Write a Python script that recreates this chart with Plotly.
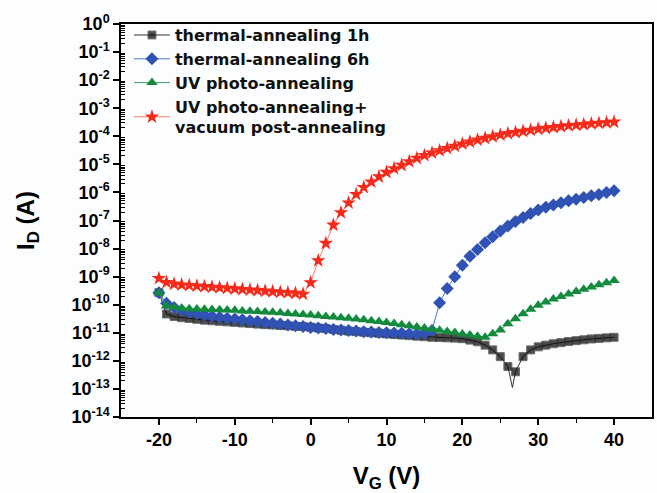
import plotly.graph_objects as go

# ---- data (gate voltage V, log10 of drain current A) ----
vg = list(range(-20, 41))

log_th1h = [-9.57, -10.33, -10.42, -10.46, -10.49, -10.52, -10.55, -10.57, -10.59, -10.61,
            -10.63, -10.65, -10.67, -10.69, -10.71, -10.72, -10.74, -10.75, -10.77, -10.78,
            -10.80, -10.83, -10.85, -10.88, -10.91, -10.94, -10.96, -10.98, -11.00, -11.02,
            -11.04, -11.06, -11.08, -11.10, -11.12, -11.14, -11.16, -11.17, -11.18, -11.19,
            -11.21, -11.26, -11.32, -11.44, -11.61, -11.85, -12.20, -12.39, -11.85, -11.61,
            -11.50, -11.44, -11.39, -11.35, -11.31, -11.28, -11.25, -11.22, -11.20, -11.18, -11.16]
# extra reading: sharp dip of the connecting line between 26 V and 27 V
dip_vg = 26.6
dip_log = -12.95

log_th6h = [-9.57, -9.95, -10.10, -10.20, -10.27, -10.32, -10.37, -10.41, -10.45, -10.48,
            -10.51, -10.54, -10.57, -10.60, -10.63, -10.66, -10.69, -10.72, -10.75, -10.78,
            -10.81, -10.83, -10.85, -10.88, -10.90, -10.92, -10.94, -10.96, -10.97, -10.99,
            -11.00, -11.01, -11.02, -11.03, -11.04, -11.02, -10.92, -9.93, -9.42, -9.00,
            -8.59, -8.27, -8.03, -7.79, -7.58, -7.37, -7.20, -7.04, -6.89, -6.75,
            -6.63, -6.53, -6.45, -6.37, -6.30, -6.24, -6.18, -6.12, -6.07, -6.00, -5.94]

log_uv = [-9.57, -10.05, -10.09, -10.13, -10.14, -10.15, -10.16, -10.17, -10.18, -10.19,
          -10.20, -10.22, -10.23, -10.24, -10.26, -10.27, -10.29, -10.31, -10.33, -10.35,
          -10.37, -10.39, -10.42, -10.44, -10.46, -10.48, -10.51, -10.54, -10.57, -10.60,
          -10.63, -10.67, -10.71, -10.75, -10.79, -10.83, -10.87, -10.91, -10.95, -10.99,
          -11.04, -11.08, -11.12, -11.16, -11.03, -10.90, -10.68, -10.50, -10.32, -10.16,
          -10.02, -9.90, -9.80, -9.71, -9.62, -9.53, -9.45, -9.37, -9.29, -9.22, -9.14]

log_uv_vac = [-9.06, -9.20, -9.26, -9.29, -9.31, -9.33, -9.35, -9.37, -9.39, -9.41,
              -9.43, -9.45, -9.47, -9.49, -9.51, -9.53, -9.55, -9.57, -9.59, -9.62,
              -9.21, -8.43, -7.81, -7.16, -6.72, -6.37, -6.07, -5.82, -5.62, -5.44,
              -5.28, -5.15, -5.03, -4.90, -4.78, -4.68, -4.59, -4.51, -4.43, -4.35,
              -4.27, -4.20, -4.13, -4.07, -4.01, -3.95, -3.90, -3.86, -3.82, -3.78,
              -3.74, -3.71, -3.68, -3.65, -3.62, -3.60, -3.58, -3.55, -3.53, -3.51, -3.49]

names = ["thermal-annealing 1h", "thermal-annealing 6h", "UV photo-annealing",
         "UV photo-annealing+<br>vacuum post-annealing"]

y_decades = list(range(-14, 1))
x_ticks = [-20, -10, 0, 10, 20, 30, 40]

FONT = "Liberation Sans, Arial, sans-serif"
LEGEND_FONT = "DejaVu Sans, Liberation Sans, Arial, sans-serif"

fig = go.Figure()

# black series, with the dip point inserted (marker hidden)
bx, by, bs = [], [], []
for v, l in zip(vg, log_th1h):
    bx.append(v); by.append(10 ** l); bs.append(8)
    if v == 26:
        bx.append(dip_vg); by.append(10 ** dip_log); bs.append(0)

fig.add_trace(go.Scatter(x=bx, y=by, name=names[0], mode="lines+markers",
                         line=dict(color="#333333", width=1),
                         marker=dict(symbol="square", size=bs, color="#000000")))
fig.add_trace(go.Scatter(x=vg, y=[10 ** l for l in log_th6h], name=names[1], mode="lines+markers",
                         line=dict(color="#4a78d8", width=1),
                         marker=dict(symbol="diamond", size=10, color="#3052b4")))
fig.add_trace(go.Scatter(x=vg, y=[10 ** l for l in log_uv], name=names[2], mode="lines+markers",
                         line=dict(color="#3aa065", width=1),
                         marker=dict(symbol="triangle-up", size=10, color="#138a3c")))
fig.add_trace(go.Scatter(x=vg, y=[10 ** l for l in log_uv_vac], name=names[3], mode="lines+markers",
                         line=dict(color="#ff7a66", width=1),
                         marker=dict(symbol="star", size=11, color="#f52a1a")))

minor_y = [m * 10 ** k for k in range(-14, 0) for m in range(2, 10)]

fig.update_layout(
    width=657, height=493,
    margin=dict(l=121, r=5, t=24, b=76),
    paper_bgcolor="#fcfdff", plot_bgcolor="#fcfdff",
    font=dict(family=FONT, size=18, color="#000000"),
    showlegend=True,
    legend=dict(x=0.015, y=1.015, xanchor="left", yanchor="top",
                bgcolor="rgba(0,0,0,0)", borderwidth=0,
                font=dict(family=LEGEND_FONT, size=16, color="#111111", weight="bold"),
                tracegroupgap=0, itemwidth=36),
)

fig.update_xaxes(
    range=[-25, 45], tickvals=x_ticks, ticktext=[str(t) for t in x_ticks],
    ticks="outside", ticklen=6, tickwidth=1.5, tickcolor="#000",
    showline=True, linecolor="#000", linewidth=1.5, mirror=True,
    showgrid=False, zeroline=False, automargin=False,
    tickfont=dict(family=FONT, size=18, weight="bold"),
    minor=dict(tickvals=[-15, -5, 5, 15, 25, 35], ticks="outside", ticklen=4,
               tickwidth=1.2, tickcolor="#000", showgrid=False),
    title=dict(text="V<sub>G</sub> (V)", font=dict(family=FONT, size=24, weight="bold"), standoff=19),
)

fig.update_yaxes(
    type="log", range=[-14, 0],
    tickvals=[10 ** k for k in y_decades],
    ticktext=["10<sup>%d</sup>" % k for k in y_decades],
    ticks="outside", ticklen=6, tickwidth=1.5, tickcolor="#000",
    showline=True, linecolor="#000", linewidth=1.5, mirror=True,
    showgrid=False, zeroline=False, automargin=False,
    tickfont=dict(family=FONT, size=18, weight="bold"),
    minor=dict(tickvals=minor_y, ticks="inside", ticklen=4, tickwidth=1, tickcolor="#000",
               showgrid=False),
    title=dict(text="I<sub>D</sub> (A)", font=dict(family=FONT, size=24, weight="bold"), standoff=30),
)

# remove the browser's default page margin so the 657x493 figure fills the window exactly
fig.write_html("out.html",
               config={"displayModeBar": False},
               post_script="document.body.style.margin='0';document.body.style.overflow='hidden';")
